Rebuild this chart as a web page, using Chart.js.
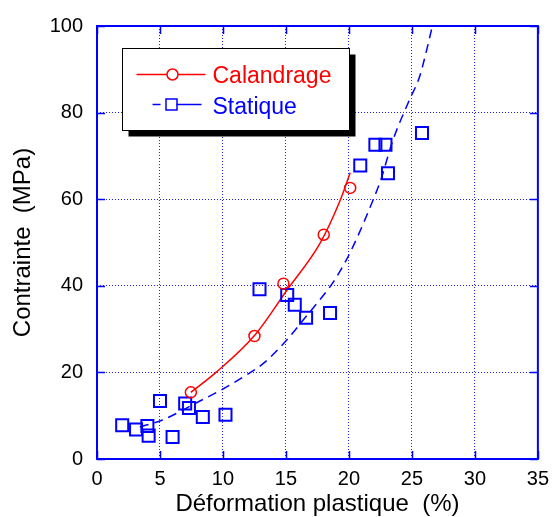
<!DOCTYPE html>
<html>
<head>
<meta charset="utf-8">
<script src="https://cdn.jsdelivr.net/npm/chart.js@4.4.1/dist/chart.umd.min.js"></script>
<style>
  html, body { margin: 0; padding: 0; background: #fff; }
  #wrap { width: 557px; height: 517px; }
</style>
</head>
<body>
<div id="wrap"><canvas id="chart"></canvas></div>
<script>
// measured points - Calandrage
const calX = [7.45, 12.5, 14.8, 18.0, 20.1];
const calY = [15.4, 28.4, 40.5, 51.8, 62.6];
// fitted curve
const calFitX = [7.45, 9.45, 12.5, 15.1, 17.7, 19.3, 20.1];
const calFitY = [15.4, 20.0, 28.5, 39.1, 49.8, 59.7, 66.1];

// measured points - Statique
const staX = [2.0, 3.1, 4.0, 4.1, 5.0, 6.0, 7.0, 7.3, 8.4, 10.2, 12.9, 15.1, 15.7, 16.6, 18.5, 20.9, 22.1, 22.9, 23.1, 25.8];
const staY = [7.8, 6.8, 7.6, 5.4, 13.4, 5.1, 12.8, 11.8, 9.7, 10.2, 39.2, 37.9, 35.6, 32.6, 33.7, 67.8, 72.6, 72.6, 66.0, 75.3];
const staFitX = [3.4, 5.2, 7.9, 9.9, 11.7, 13.3, 15.1, 16.4, 17.7, 18.7, 19.8, 20.8, 21.9, 22.5, 23.5, 24.8, 25.6, 26.1, 26.6];
const staFitY = [7.4, 9.0, 13.0, 16.0, 19.1, 22.3, 27.6, 32.2, 36.8, 40.6, 46.0, 52.1, 59.7, 64.2, 73.7, 82.9, 88.2, 93.6, 99.7];

const xTicks = [0, 5, 10, 15, 20, 25, 30, 35];
const yTicks = [0, 20, 40, 60, 80, 100];

const RED = '#ff0000';
const BLUE = '#0000ff';
const FONT = 'Arial, "Liberation Sans", sans-serif';

const pts = (xs, ys) => xs.map((x, i) => ({ x, y: ys[i] }));

// frame on all four sides with inward ticks, like the original plot
const framePlugin = {
  id: 'frame',
  afterDatasetsDraw(chart) {
    const { ctx, chartArea: a, scales } = chart;
    ctx.save();
    ctx.strokeStyle = BLUE;
    ctx.lineWidth = 2;
    ctx.strokeRect(a.left, a.top, a.right - a.left, a.bottom - a.top);
    ctx.lineWidth = 1.5;
    const len = 8;
    ctx.beginPath();
    xTicks.forEach(v => {
      const px = Math.round(scales.x.getPixelForValue(v)) + 0.5;
      ctx.moveTo(px, a.bottom); ctx.lineTo(px, a.bottom - len);
      ctx.moveTo(px, a.top); ctx.lineTo(px, a.top + len);
    });
    yTicks.forEach(v => {
      const py = Math.round(scales.y.getPixelForValue(v)) + 0.5;
      ctx.moveTo(a.left, py); ctx.lineTo(a.left + len, py);
      ctx.moveTo(a.right, py); ctx.lineTo(a.right - len, py);
    });
    ctx.stroke();
    ctx.restore();
  }
};

// boxed legend with black drop shadow
const legendPlugin = {
  id: 'boxLegend',
  afterDraw(chart) {
    const { ctx, chartArea: a } = chart;
    const bx = a.left + 25.5, by = a.top + 22.5, bw = 227, bh = 82;
    ctx.save();
    ctx.fillStyle = '#000';
    ctx.fillRect(bx + 6, by + 6, bw, bh);
    ctx.fillStyle = '#fff';
    ctx.fillRect(bx, by, bw, bh);
    ctx.strokeStyle = '#000';
    ctx.lineWidth = 1;
    ctx.strokeRect(bx, by, bw, bh);

    ctx.font = '23px ' + FONT;
    ctx.textBaseline = 'alphabetic';

    // Calandrage
    let y = by + 26;
    ctx.strokeStyle = RED;
    ctx.lineWidth = 1.5;
    ctx.beginPath();
    ctx.moveTo(bx + 14, y); ctx.lineTo(bx + 83, y);
    ctx.stroke();
    ctx.fillStyle = '#fff';
    ctx.beginPath();
    ctx.arc(bx + 50, y, 5.5, 0, Math.PI * 2);
    ctx.fill(); ctx.stroke();
    ctx.fillStyle = RED;
    ctx.fillText('Calandrage', bx + 90, y + 8.5);

    // Statique
    y = by + 56;
    ctx.strokeStyle = BLUE;
    ctx.beginPath();
    ctx.moveTo(bx + 30, y); ctx.lineTo(bx + 38, y);
    ctx.moveTo(bx + 54, y); ctx.lineTo(bx + 79, y);
    ctx.stroke();
    ctx.strokeRect(bx + 43.5, y - 5.5, 11, 11);
    ctx.fillStyle = BLUE;
    ctx.fillText('Statique', bx + 90, y + 9);
    ctx.restore();
  }
};

new Chart(document.getElementById('chart'), {
  type: 'scatter',
  data: {
    datasets: [
      {
        label: 'Calandrage',
        data: pts(calX, calY),
        showLine: false,
        pointStyle: 'circle',
        pointRadius: 5.5,
        borderColor: RED,
        backgroundColor: 'rgba(255,255,255,0)',
        borderWidth: 1.5,
        order: 1
      },
      {
        label: 'Calandrage fit',
        data: pts(calFitX, calFitY),
        showLine: true,
        pointRadius: 0,
        borderColor: RED,
        borderWidth: 1.5,
        cubicInterpolationMode: 'monotone',
        order: 3
      },
      {
        label: 'Statique',
        data: pts(staX, staY),
        showLine: false,
        pointStyle: 'rect',
        pointRadius: 8.5,
        borderColor: BLUE,
        backgroundColor: 'rgba(255,255,255,0)',
        borderWidth: 2,
        order: 2
      },
      {
        label: 'Statique fit',
        data: pts(staFitX, staFitY),
        showLine: true,
        pointRadius: 0,
        borderColor: BLUE,
        borderWidth: 1.5,
        borderDash: [9, 6],
        cubicInterpolationMode: 'monotone',
        order: 4
      }
    ]
  },
  options: {
    responsive: true,
    maintainAspectRatio: false,
    animation: false,
    events: [],
    layout: { padding: { top: 25, right: 14, left: 0, bottom: 0 } },
    plugins: {
      legend: { display: false },
      tooltip: { enabled: false }
    },
    scales: {
      x: {
        type: 'linear',
        min: 0,
        max: 35,
        afterFit: scale => { scale.height = 58; },
        afterBuildTicks: scale => { scale.ticks = xTicks.map(v => ({ value: v })); },
        ticks: { color: '#000', font: { family: FONT, size: 20 }, padding: 8, maxRotation: 0 },
        grid: {
          color: ctx => (ctx.tick && (ctx.tick.value === 0 || ctx.tick.value === 35)) ? 'rgba(0,0,0,0)' : '#2020ff',
          drawTicks: false,
          lineWidth: 1
        },
        border: { display: false, dash: [1, 2] },
        title: {
          display: true,
          text: 'Déformation plastique  (%)',
          color: '#000',
          font: { family: FONT, size: 24, lineHeight: 1 },
          padding: { top: 0, bottom: 1 }
        }
      },
      y: {
        min: 0,
        max: 100,
        afterFit: scale => { scale.width = 97; },
        afterBuildTicks: scale => { scale.ticks = yTicks.map(v => ({ value: v })); },
        ticks: { color: '#000', font: { family: FONT, size: 20 }, padding: 14 },
        grid: {
          color: ctx => (ctx.tick && (ctx.tick.value === 0 || ctx.tick.value === 100)) ? 'rgba(0,0,0,0)' : '#2020ff',
          drawTicks: false,
          lineWidth: 1
        },
        border: { display: false, dash: [1, 2] },
        title: {
          display: true,
          text: 'Contrainte  (MPa)',
          color: '#000',
          font: { family: FONT, size: 24, lineHeight: 1 },
          padding: { top: 11, bottom: 0 }
        }
      }
    }
  },
  plugins: [framePlugin, legendPlugin]
});
</script>
</body>
</html>
